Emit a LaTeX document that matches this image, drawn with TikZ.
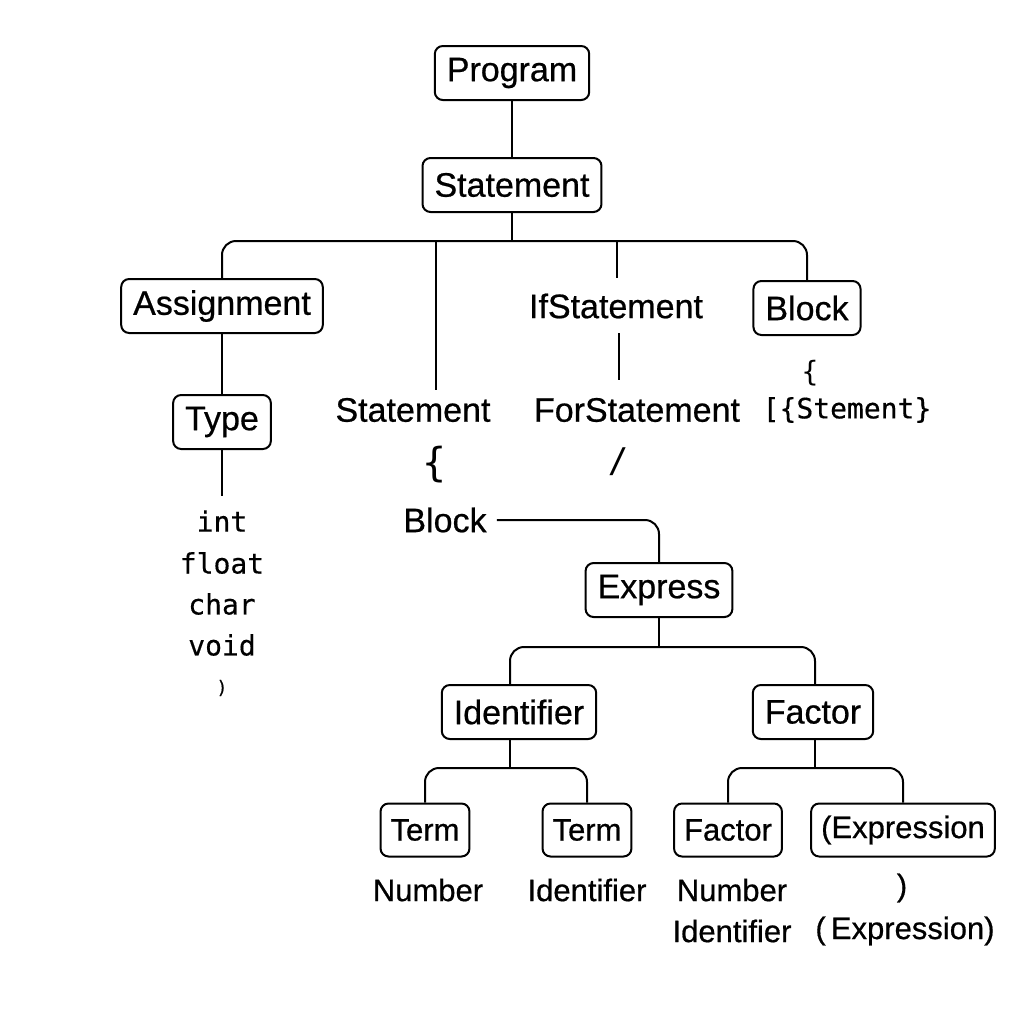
\documentclass[tikz,border=0pt]{standalone}
\usepackage{fontspec}
\setmainfont{Liberation Sans}[FakeBold=0.6]
\newfontfamily\codefont{DejaVu Sans Mono}[FakeBold=0.4]
\newfontfamily\thinfont{DejaVu Sans Mono}
\begin{document}
\begin{tikzpicture}[x=0.5pt,y=-0.5pt,
  box/.style={draw,line width=1pt,rounded corners=4pt,minimum height=27pt,inner xsep=6pt,font=\fontsize{17}{20}\selectfont},
  lbl/.style={inner sep=2pt,font=\fontsize{17}{20}\selectfont},
  sbox/.style={box,minimum height=26.5pt,inner xsep=5pt,font=\fontsize{15.5}{18}\selectfont},
  slbl/.style={inner sep=2pt,font=\fontsize{15.5}{18}\selectfont},
  code/.style={inner sep=1pt,font=\codefont\fontsize{14}{16}\selectfont},
  wire/.style={draw,line width=1pt},
  bus/.style={wire,rounded corners=7pt}]
\definecolor{fillColor}{RGB}{255,255,255}
\path[use as bounding box,fill=fillColor] (0,0) rectangle (1024,1024);

% boxes and labels
\node[box] (prog) at (512,73) {Program};
\node[box] (stmt) at (512,185) {Statement};
\node[box] (assign) at (222,306) {Assignment};
\node[lbl] (ifst) at (616,306) {IfStatement};
\node[box] (blkA) at (807,308) {Block};
\node[box] (type) at (222,422) {Type};
\node[code] (tint) at (222,521) {int};
\node[code] (tfloat) at (222,563) {float};
\node[code] (tchar) at (222,604) {char};
\node[code] (tvoid) at (222,645) {void};
\node[code,font=\codefont\fontsize{9}{10}\selectfont] (tend) at (222,688) {)};
\node[lbl] (stmtL) at (413,410) {Statement};
\node[lbl] (forst) at (637,410) {ForStatement};
\node[code,font=\thinfont\fontsize{14}{16}\selectfont] (lbrA) at (810,373) {\{};
\node[code] (stment) at (847,410) {[\{Stement\}};
\node[lbl,font=\thinfont\fontsize{20}{24}\selectfont] (lbrB) at (435,465) {\{};
\node[lbl,font=\thinfont\fontsize{17}{20}\selectfont] (slash) at (618,462) {/};
\node[lbl,inner xsep=5pt] (blkB) at (445,520) {Block};
\node[box] (expr) at (659,590) {Express};
\node[box] (ident) at (519,712) {Identifier};
\node[box] (fact) at (813,712) {Factor};
\node[sbox] (term1) at (425,830) {Term};
\node[sbox] (term2) at (587,830) {Term};
\node[sbox] (fact2) at (728,830) {Factor};
\node[sbox] (expn) at (903,830) {(Expression};
\node[slbl] (num1) at (428,890) {Number};
\node[slbl] (id1) at (587,890) {Identifier};
\node[slbl] (num2) at (732,890) {Number};
\node[slbl] (id2) at (732,931) {Identifier};
\node[slbl] (rpar) at (902,888) {)};
\node[slbl] (expr2) at (905,931) {(\,Expression)};

% connector ends
\coordinate (busS) at (512,241);
\coordinate (cStmt) at (436,390);
\coordinate (cIf) at (617,278);
\coordinate (cIfA) at (619,333);
\coordinate (cIfB) at (619,380);
\coordinate (cType) at (222,496);
\coordinate (busE) at (659,647);
\coordinate (busI) at (510,768);
\coordinate (busF) at (815,768);

% connectors
\draw[wire] (prog) -- (stmt);
\draw[wire] (stmt) -- (busS);
\draw[bus] (assign.north) |- (busS) -| (blkA.north);
\draw[wire] (cStmt |- busS) -- (cStmt);
\draw[wire] (cIf |- busS) -- (cIf);
\draw[wire] (assign) -- (type);
\draw[wire] (type) -- (cType);
\draw[wire] (cIfA) -- (cIfB);
\draw[bus] (blkB.east) -| (expr.north);
\draw[wire] (expr) -- (busE);
\draw[bus] (busI |- ident.north) |- (busE) -| (busF |- fact.north);
\draw[wire] (busI |- ident.south) -- (busI);
\draw[wire] (busF |- fact.south) -- (busF);
\draw[bus] (term1.north) |- (busI) -| (term2.north);
\draw[bus] (fact2.north) |- (busF) -| (expn.north);
\end{tikzpicture}
\end{document}
